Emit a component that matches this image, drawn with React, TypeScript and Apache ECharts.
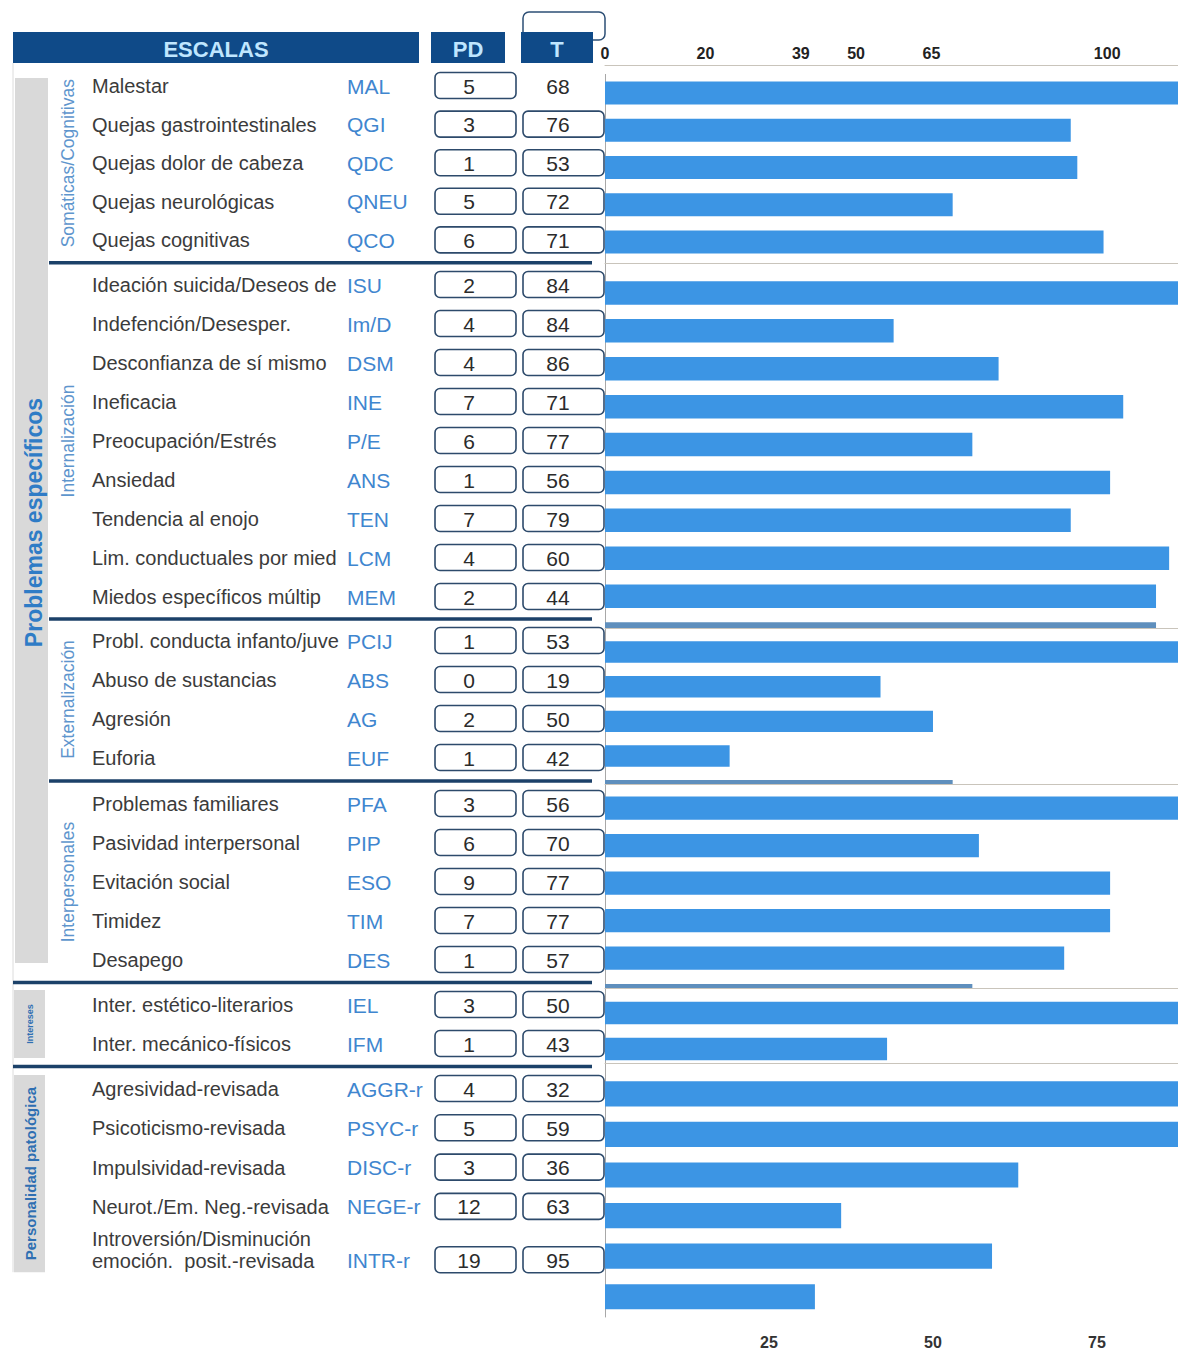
import React, { useEffect, useRef } from 'react';
import * as echarts from 'echarts';

// ---------- DATA ----------
const headerLabels = ['ESCALAS', 'PD', 'T'];
const sectionLabel = 'Problemas específicos';
const groupLabels = ['Somáticas/Cognitivas', 'Internalización', 'Externalización', 'Interpersonales', 'Intereses', 'Personalidad patológica'];

const namesSomatic = ['Malestar', 'Quejas gastrointestinales', 'Quejas dolor de cabeza', 'Quejas neurológicas', 'Quejas cognitivas'];
const codesSomatic = ['MAL', 'QGI', 'QDC', 'QNEU', 'QCO'];
const pdSomatic = [5, 3, 1, 5, 6];
const tSomatic = [68, 76, 53, 72, 71];

const namesIntern = ['Ideación suicida/Deseos de', 'Indefención/Desesper.', 'Desconfianza de sí mismo', 'Ineficacia', 'Preocupación/Estrés', 'Ansiedad', 'Tendencia al enojo', 'Lim. conductuales por miedo', 'Miedos específicos múltiples'];
const codesIntern = ['ISU', 'Im/D', 'DSM', 'INE', 'P/E', 'ANS', 'TEN', 'LCM', 'MEM'];
const pdIntern = [2, 4, 4, 7, 6, 1, 7, 4, 2];
const tIntern = [84, 84, 86, 71, 77, 56, 79, 60, 44];

const namesExtern = ['Probl. conducta infanto/juvenil', 'Abuso de sustancias', 'Agresión', 'Euforia'];
const codesExtern = ['PCIJ', 'ABS', 'AG', 'EUF'];
const pdExtern = [1, 0, 2, 1];
const tExtern = [53, 19, 50, 42];

const namesInterp = ['Problemas familiares', 'Pasividad interpersonal', 'Evitación social', 'Timidez', 'Desapego'];
const codesInterp = ['PFA', 'PIP', 'ESO', 'TIM', 'DES'];
const pdInterp = [3, 6, 9, 7, 1];
const tInterp = [56, 70, 77, 77, 57];

const namesInterest = ['Inter. estético-literarios', 'Inter. mecánico-físicos'];
const codesInterest = ['IEL', 'IFM'];
const pdInterest = [3, 1];
const tInterest = [50, 43];

const namesPers = ['Agresividad-revisada', 'Psicoticismo-revisada', 'Impulsividad-revisada', 'Neurot./Em. Neg.-revisada', 'Introversión/Disminución\nemoción.  posit.-revisada'];
const codesPers = ['AGGR-r', 'PSYC-r', 'DISC-r', 'NEGE-r', 'INTR-r'];
const pdPers = [4, 5, 3, 12, 19];
const tPers = [32, 59, 36, 63, 95];

// bar lengths as drawn in the right-hand panel (bottom-axis units), top to bottom
const barsSomatic = [100, 71, 72, 53, 76, 68];
const barsIntern = [100, 44, 60, 79, 56, 77, 71, 86, 84, 84];
const barsExtern = [100, 42, 50, 19, 53];
const barsInterp = [100, 57, 77, 77, 70, 56];
const barsInterest = [100, 43, 50];
const barsPers = [100, 95, 63, 36, 59, 32];

const topTickValues = [0, 20, 39, 50, 65, 100];
const bottomTickValues = [25, 50, 75];

// ---------- LAYOUT / STYLE ----------
const W = 1178;
const H = 1350;
const PLOT_LEFT = 605;
const BAR_AXIS_MAX = 87.35;
const TOP_AXIS_MAX = 114.1;
const TOP_LINE_Y = 65;
const FONT = 'Liberation Sans, Arial, sans-serif';
const NAVY = '#0f4a88';
const SEP = '#1c4169';
const BAR_COLOR = '#3c95e4';
const PARTIAL_COLOR = '#5f8fbd';
const GRAY_BAND = '#d9d9d9';

const groups = [
  { names: namesSomatic, codes: codesSomatic, pd: pdSomatic, t: tSomatic },
  { names: namesIntern, codes: codesIntern, pd: pdIntern, t: tIntern },
  { names: namesExtern, codes: codesExtern, pd: pdExtern, t: tExtern },
  { names: namesInterp, codes: codesInterp, pd: pdInterp, t: tInterp },
  { names: namesInterest, codes: codesInterest, pd: pdInterest, t: tInterest },
  { names: namesPers, codes: codesPers, pd: pdPers, t: tPers },
];
const barGroups = [barsSomatic, barsIntern, barsExtern, barsInterp, barsInterest, barsPers];

const tableLayout = [
  { y0: 86, step: 38.6 },
  { y0: 285, step: 39 },
  { y0: 641, step: 39 },
  { y0: 804, step: 39 },
  { y0: 1005, step: 39 },
  { y0: 1089, step: 39.3 },
];
const barLayout = [
  { top: 74.4, step: 37.25, clip: 263 },
  { top: 274, step: 37.9, clip: 628 },
  { top: 634.7, step: 34.67, clip: 784 },
  { top: 789.25, step: 37.5, clip: 988 },
  { top: 995, step: 36, clip: 1063 },
  { top: 1073.6, step: 40.8, clip: 1330 },
];
const unboxedT = ['MAL'];

function rowY(g: number, i: number) {
  const L = tableLayout[g];
  const multi = groups[g].names[i].indexOf('\n') >= 0;
  return L.y0 + i * L.step + (multi ? 14 : 0);
}

function buildGraphics() {
  const els: any[] = [];
  // gray side bands
  const secTop = rowY(0, 0) - 8;
  const secBot = rowY(3, groups[3].names.length - 1) + 3;
  els.push({ type: 'rect', shape: { x: 15, y: secTop, width: 33, height: secBot - secTop }, style: { fill: GRAY_BAND } });
  const g4Top = rowY(4, 0) - 15;
  const g4Bot = rowY(4, 1) + 14;
  els.push({ type: 'rect', shape: { x: 14, y: g4Top, width: 31, height: g4Bot - g4Top }, style: { fill: GRAY_BAND } });
  const g5Top = rowY(5, 0) - 14;
  const g5Bot = rowY(5, groups[5].names.length - 1) + 12;
  els.push({ type: 'rect', shape: { x: 14, y: g5Top, width: 31, height: g5Bot - g5Top }, style: { fill: GRAY_BAND } });
  els.push({ type: 'line', shape: { x1: 13, y1: 63, x2: 13, y2: g5Bot }, style: { stroke: '#dcdcdc', lineWidth: 1 } });

  // header
  els.push({ type: 'rect', shape: { x: 523, y: 12, width: 82, height: 28, r: 6 }, style: { fill: '#fff', stroke: '#2d4f75', lineWidth: 1.5 } });
  const hdr = [
    { x: 13, w: 406, label: headerLabels[0] },
    { x: 431, w: 74, label: headerLabels[1] },
    { x: 521, w: 72, label: headerLabels[2] },
  ];
  hdr.forEach((h) => {
    els.push({ type: 'rect', shape: { x: h.x, y: 32, width: h.w, height: 31 }, style: { fill: NAVY } });
    els.push({
      type: 'text', x: h.x + h.w / 2, y: 49,
      style: { text: h.label, fill: '#bfe6ff', fontSize: 22, fontWeight: 'bold', fontFamily: FONT, align: 'center', verticalAlign: 'middle' },
    });
  });

  // section label
  els.push({
    type: 'text', x: 34, y: (secTop + secBot) / 2 + 2, rotation: Math.PI / 2,
    style: { text: sectionLabel, fill: '#2f7cc6', fontSize: 23, fontWeight: 'bold', fontFamily: FONT, align: 'center', verticalAlign: 'middle' },
  });

  groups.forEach((grp, g) => {
    const n = grp.names.length;
    const first = rowY(g, 0);
    const last = rowY(g, n - 1);
    // group label
    if (g < 4) {
      els.push({
        type: 'text', x: 68, y: (first + last) / 2, rotation: Math.PI / 2,
        style: { text: groupLabels[g], fill: '#5e95cd', fontSize: 17.5, fontFamily: FONT, align: 'center', verticalAlign: 'middle' },
      });
    } else {
      const top = g === 4 ? g4Top : g5Top;
      const bot = g === 4 ? g4Bot : g5Bot;
      els.push({
        type: 'text', x: 30, y: (top + bot) / 2, rotation: Math.PI / 2,
        style: { text: groupLabels[g], fill: '#2f6fb2', fontSize: g === 4 ? 9 : 15, fontWeight: 'bold', fontFamily: FONT, align: 'center', verticalAlign: 'middle' },
      });
    }
    // separator below group
    if (g < groups.length - 1) {
      const sy = (last + rowY(g + 1, 0)) / 2;
      const sx = g >= 3 ? 13 : 49;
      els.push({ type: 'rect', shape: { x: sx, y: sy - 1.8, width: 592 - sx, height: 3.6 }, style: { fill: SEP } });
    }
    for (let i = 0; i < n; i++) {
      const y = rowY(g, i);
      const multi = grp.names[i].indexOf('\n') >= 0;
      els.push({
        type: 'text', x: 92, y: multi ? y - 10 : y,
        style: {
          text: grp.names[i], fill: '#3b3b3b', fontSize: 20, fontFamily: FONT, align: 'left', verticalAlign: 'middle',
          lineHeight: 22, width: 253, overflow: 'truncate', ellipsis: '',
        },
      });
      els.push({
        type: 'text', x: 347, y: y,
        style: { text: grp.codes[i], fill: '#3f86cf', fontSize: 21, fontFamily: FONT, align: 'left', verticalAlign: 'middle' },
      });
      els.push({ type: 'rect', shape: { x: 435, y: y - 13.5, width: 81, height: 26, r: 5 }, style: { fill: 'none', stroke: '#2d4a6b', lineWidth: 1.6 } });
      els.push({
        type: 'text', x: 469, y: y,
        style: { text: String(grp.pd[i]), fill: '#2b2b2b', fontSize: 21, fontFamily: FONT, align: 'center', verticalAlign: 'middle' },
      });
      if (unboxedT.indexOf(grp.codes[i]) < 0) {
        els.push({ type: 'rect', shape: { x: 523, y: y - 13.5, width: 81, height: 26, r: 5 }, style: { fill: 'none', stroke: '#2d4a6b', lineWidth: 1.6 } });
      }
      els.push({
        type: 'text', x: 558, y: y,
        style: { text: String(grp.t[i]), fill: '#2b2b2b', fontSize: 21, fontFamily: FONT, align: 'center', verticalAlign: 'middle' },
      });
    }
  });
  return els;
}

function makeRenderer(clipY: number) {
  return (params: any, api: any) => {
    const v = api.value(0);
    const idx = api.value(1);
    const a = api.coord([0, idx]);
    const b = api.coord([v, idx]);
    const h = api.size([0, 1])[1] * 0.62;
    const cs = params.coordSys;
    const shape = echarts.graphic.clipRectByRect(
      { x: a[0], y: a[1] - h / 2, width: b[0] - a[0], height: h },
      { x: cs.x, y: cs.y, width: cs.width, height: clipY - cs.y }
    );
    if (!shape || shape.height <= 0) return { type: 'group', children: [] };
    const partial = shape.height < h - 1;
    return { type: 'rect', shape, style: { fill: partial ? PARTIAL_COLOR : BAR_COLOR } };
  };
}

function buildOption() {
  const grid = barLayout.map((b, k) => ({
    left: PLOT_LEFT, width: W - PLOT_LEFT, top: b.top, height: b.step * barGroups[k].length,
  }));
  const xAxis: any[] = barLayout.map((b, k) => ({
    gridIndex: k, type: 'value', min: 0, max: BAR_AXIS_MAX,
    position: k === 0 ? 'bottom' : 'top',
    offset: k === 0 ? 0 : b.top - barLayout[k - 1].clip,
    axisLine: { show: k !== 0, lineStyle: { color: '#c9c4bb', width: 1 } },
    axisTick: { show: false }, axisLabel: { show: false }, splitLine: { show: false },
  }));
  xAxis.push({
    gridIndex: 0, type: 'value', min: 0, max: TOP_AXIS_MAX, position: 'top',
    offset: barLayout[0].top - TOP_LINE_Y,
    axisLine: { show: true, lineStyle: { color: '#c9c4bb', width: 1 } },
    axisTick: { show: false }, splitLine: { show: false },
    axisLabel: { customValues: topTickValues, margin: 4, fontSize: 16, fontWeight: 'bold', color: '#222', fontFamily: FONT },
  });
  xAxis.push({
    gridIndex: 5, type: 'value', min: 0, max: BAR_AXIS_MAX, position: 'bottom',
    axisLine: { show: false }, axisTick: { show: false }, splitLine: { show: false },
    axisLabel: { customValues: bottomTickValues, margin: 17, fontSize: 16, fontWeight: 'bold', color: '#333', fontFamily: FONT },
  });
  const yAxis = barGroups.map((bars, k) => ({
    gridIndex: k, type: 'category', inverse: true,
    data: bars.map((_, i) => String(i)),
    axisLine: { show: true, lineStyle: { color: '#a8a8a8', width: 1 } },
    axisTick: { show: false }, axisLabel: { show: false }, splitLine: { show: false },
  }));
  const series = barGroups.map((bars, k) => ({
    type: 'custom', xAxisIndex: k, yAxisIndex: k,
    data: bars.map((v, i) => [v, i]),
    encode: { x: 0, y: 1 },
    clip: false, silent: true,
    renderItem: makeRenderer(barLayout[k].clip),
  }));
  return {
    animation: false,
    backgroundColor: '#ffffff',
    grid, xAxis, yAxis, series,
    graphic: buildGraphics(),
  };
}

export default function App() {
  const ref = useRef<HTMLDivElement>(null);
  useEffect(() => {
    if (!ref.current) return;
    const chart = echarts.init(ref.current, undefined, { renderer: 'svg' });
    chart.setOption(buildOption() as any);
    return () => chart.dispose();
  }, []);
  return <div ref={ref} style={{ position: 'absolute', left: 0, top: 0, width: W, height: H, background: '#fff' }} />;
}
